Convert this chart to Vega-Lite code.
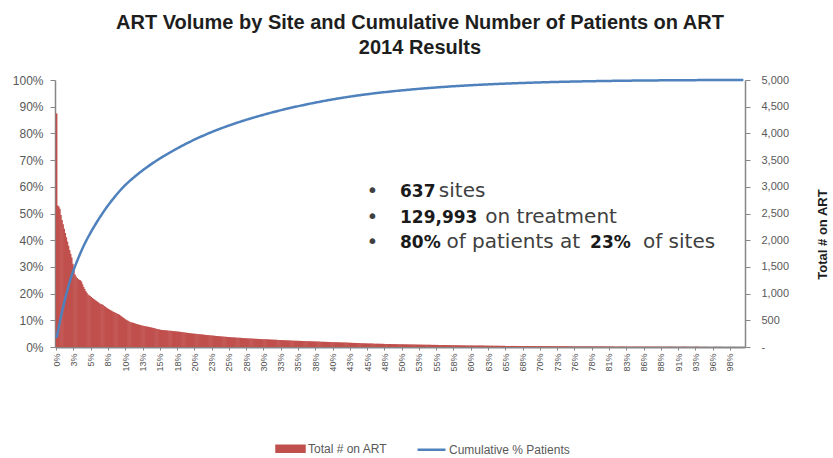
{
"$schema":"https://vega.github.io/schema/vega-lite/v6.json",
"width":690,"height":267,
"autosize":{"type":"none"},
"padding":{"left":55,"top":80,"right":88,"bottom":111},
"background":"white",
"config":{"view":{"stroke":null},"axis":{"grid":false}},
"title":{"text":["ART Volume by Site and Cumulative Number of Patients on ART","2014 Results"],"font":"Liberation Sans","fontSize":20,"fontWeight":"bold","color":"#1E1E1E","anchor":"middle","dx":20,"offset":16,"lineHeight":25},
"datasets":{"sites":[
{"s":1,"n":4374},{"s":2,"n":2650},{"s":3,"n":2630},{"s":4,"n":2590},{"s":5,"n":2470},{"s":6,"n":2380},{"s":7,"n":2300},{"s":8,"n":2215},{"s":9,"n":2135},{"s":10,"n":2055},
{"s":11,"n":1975},{"s":12,"n":1895},{"s":13,"n":1815},{"s":14,"n":1745},{"s":15,"n":1675},{"s":16,"n":1560},{"s":17,"n":1440},{"s":18,"n":1360},{"s":19,"n":1320},{"s":20,"n":1290},
{"s":21,"n":1270},{"s":22,"n":1260},{"s":23,"n":1250},{"s":24,"n":1225},{"s":25,"n":1175},{"s":26,"n":1125},{"s":27,"n":1085},{"s":28,"n":1045},{"s":29,"n":1015},{"s":30,"n":985},
{"s":31,"n":970},{"s":32,"n":955},{"s":33,"n":935},{"s":34,"n":920},{"s":35,"n":905},{"s":36,"n":890},{"s":37,"n":875},{"s":38,"n":860},{"s":39,"n":845},{"s":40,"n":830},
{"s":41,"n":815},{"s":42,"n":800},{"s":43,"n":800},{"s":44,"n":785},{"s":45,"n":770},{"s":46,"n":755},{"s":47,"n":740},{"s":48,"n":725},{"s":49,"n":713},{"s":50,"n":701},
{"s":51,"n":689},{"s":52,"n":677},{"s":53,"n":665},{"s":54,"n":655},{"s":55,"n":645},{"s":56,"n":635},{"s":57,"n":625},{"s":58,"n":617},{"s":59,"n":605},{"s":60,"n":590},
{"s":61,"n":575},{"s":62,"n":560},{"s":63,"n":545},{"s":64,"n":530},{"s":65,"n":515},{"s":66,"n":503},{"s":67,"n":491},{"s":68,"n":480},{"s":69,"n":470},{"s":70,"n":460},
{"s":71,"n":460},{"s":72,"n":453},{"s":73,"n":446},{"s":74,"n":439},{"s":75,"n":432},{"s":76,"n":426},{"s":77,"n":420},{"s":78,"n":414},{"s":79,"n":408},{"s":80,"n":402},
{"s":81,"n":397},{"s":82,"n":392},{"s":83,"n":390},{"s":84,"n":386},{"s":85,"n":382},{"s":86,"n":378},{"s":87,"n":374},{"s":88,"n":369},{"s":89,"n":364},{"s":90,"n":359},
{"s":91,"n":354},{"s":92,"n":349},{"s":93,"n":344},{"s":94,"n":339},{"s":95,"n":334},{"s":96,"n":329},{"s":97,"n":324},{"s":98,"n":320},{"s":99,"n":318},{"s":100,"n":316},
{"s":101,"n":314},{"s":102,"n":312},{"s":103,"n":310},{"s":104,"n":308},{"s":105,"n":306},{"s":106,"n":304},{"s":107,"n":302},{"s":108,"n":300},{"s":109,"n":298},{"s":110,"n":296},
{"s":111,"n":294},{"s":112,"n":292},{"s":113,"n":290},{"s":114,"n":288},{"s":115,"n":285},{"s":116,"n":282},{"s":117,"n":279},{"s":118,"n":276},{"s":119,"n":273},{"s":120,"n":270},
{"s":121,"n":268},{"s":122,"n":265},{"s":123,"n":262},{"s":124,"n":260},{"s":125,"n":257},{"s":126,"n":255},{"s":127,"n":252},{"s":128,"n":250},{"s":129,"n":248},{"s":130,"n":246},
{"s":131,"n":244},{"s":132,"n":242},{"s":133,"n":240},{"s":134,"n":238},{"s":135,"n":236},{"s":136,"n":234},{"s":137,"n":232},{"s":138,"n":229},{"s":139,"n":227},{"s":140,"n":225},
{"s":141,"n":223},{"s":142,"n":221},{"s":143,"n":219},{"s":144,"n":217},{"s":145,"n":215},{"s":146,"n":213},{"s":147,"n":211},{"s":148,"n":209},{"s":149,"n":207},{"s":150,"n":205},
{"s":151,"n":203},{"s":152,"n":201},{"s":153,"n":199},{"s":154,"n":197},{"s":155,"n":195},{"s":156,"n":193},{"s":157,"n":191},{"s":158,"n":190},{"s":159,"n":188},{"s":160,"n":187},
{"s":161,"n":185},{"s":162,"n":184},{"s":163,"n":182},{"s":164,"n":181},{"s":165,"n":179},{"s":166,"n":178},{"s":167,"n":176},{"s":168,"n":175},{"s":169,"n":174},{"s":170,"n":172},
{"s":171,"n":171},{"s":172,"n":170},{"s":173,"n":168},{"s":174,"n":167},{"s":175,"n":166},{"s":176,"n":164},{"s":177,"n":163},{"s":178,"n":162},{"s":179,"n":160},{"s":180,"n":159},
{"s":181,"n":158},{"s":182,"n":157},{"s":183,"n":156},{"s":184,"n":155},{"s":185,"n":154},{"s":186,"n":153},{"s":187,"n":152},{"s":188,"n":151},{"s":189,"n":150},{"s":190,"n":149},
{"s":191,"n":148},{"s":192,"n":147},{"s":193,"n":146},{"s":194,"n":145},{"s":195,"n":144},{"s":196,"n":143},{"s":197,"n":142},{"s":198,"n":141},{"s":199,"n":140},{"s":200,"n":139},
{"s":201,"n":138},{"s":202,"n":137},{"s":203,"n":136},{"s":204,"n":135},{"s":205,"n":134},{"s":206,"n":133},{"s":207,"n":132},{"s":208,"n":131},{"s":209,"n":130},{"s":210,"n":129},
{"s":211,"n":128},{"s":212,"n":127},{"s":213,"n":126},{"s":214,"n":125},{"s":215,"n":124},{"s":216,"n":123},{"s":217,"n":122},{"s":218,"n":121},{"s":219,"n":120},{"s":220,"n":119},
{"s":221,"n":118},{"s":222,"n":118},{"s":223,"n":117},{"s":224,"n":116},{"s":225,"n":115},{"s":226,"n":115},{"s":227,"n":114},{"s":228,"n":113},{"s":229,"n":112},{"s":230,"n":112},
{"s":231,"n":111},{"s":232,"n":110},{"s":233,"n":109},{"s":234,"n":109},{"s":235,"n":108},{"s":236,"n":107},{"s":237,"n":106},{"s":238,"n":106},{"s":239,"n":105},{"s":240,"n":104},
{"s":241,"n":103},{"s":242,"n":103},{"s":243,"n":102},{"s":244,"n":101},{"s":245,"n":100},{"s":246,"n":100},{"s":247,"n":99},{"s":248,"n":98},{"s":249,"n":97},{"s":250,"n":97},
{"s":251,"n":96},{"s":252,"n":95},{"s":253,"n":94},{"s":254,"n":94},{"s":255,"n":93},{"s":256,"n":92},{"s":257,"n":91},{"s":258,"n":91},{"s":259,"n":90},{"s":260,"n":89},
{"s":261,"n":88},{"s":262,"n":88},{"s":263,"n":87},{"s":264,"n":86},{"s":265,"n":85},{"s":266,"n":85},{"s":267,"n":84},{"s":268,"n":83},{"s":269,"n":82},{"s":270,"n":82},
{"s":271,"n":81},{"s":272,"n":80},{"s":273,"n":79},{"s":274,"n":79},{"s":275,"n":78},{"s":276,"n":77},{"s":277,"n":76},{"s":278,"n":76},{"s":279,"n":75},{"s":280,"n":74},
{"s":281,"n":73},{"s":282,"n":72},{"s":283,"n":71},{"s":284,"n":70},{"s":285,"n":70},{"s":286,"n":69},{"s":287,"n":68},{"s":288,"n":67},{"s":289,"n":67},{"s":290,"n":66},
{"s":291,"n":65},{"s":292,"n":65},{"s":293,"n":64},{"s":294,"n":64},{"s":295,"n":63},{"s":296,"n":63},{"s":297,"n":62},{"s":298,"n":62},{"s":299,"n":61},{"s":300,"n":61},
{"s":301,"n":60},{"s":302,"n":60},{"s":303,"n":59},{"s":304,"n":59},{"s":305,"n":58},{"s":306,"n":58},{"s":307,"n":57},{"s":308,"n":57},{"s":309,"n":56},{"s":310,"n":56},
{"s":311,"n":55},{"s":312,"n":55},{"s":313,"n":54},{"s":314,"n":54},{"s":315,"n":53},{"s":316,"n":53},{"s":317,"n":52},{"s":318,"n":52},{"s":319,"n":52},{"s":320,"n":51},
{"s":321,"n":51},{"s":322,"n":50},{"s":323,"n":50},{"s":324,"n":50},{"s":325,"n":49},{"s":326,"n":49},{"s":327,"n":48},{"s":328,"n":48},{"s":329,"n":48},{"s":330,"n":47},
{"s":331,"n":47},{"s":332,"n":46},{"s":333,"n":46},{"s":334,"n":46},{"s":335,"n":45},{"s":336,"n":45},{"s":337,"n":45},{"s":338,"n":44},{"s":339,"n":44},{"s":340,"n":43},
{"s":341,"n":43},{"s":342,"n":43},{"s":343,"n":42},{"s":344,"n":42},{"s":345,"n":42},{"s":346,"n":41},{"s":347,"n":41},{"s":348,"n":41},{"s":349,"n":40},{"s":350,"n":40},
{"s":351,"n":40},{"s":352,"n":39},{"s":353,"n":39},{"s":354,"n":39},{"s":355,"n":38},{"s":356,"n":38},{"s":357,"n":38},{"s":358,"n":37},{"s":359,"n":37},{"s":360,"n":37},
{"s":361,"n":36},{"s":362,"n":36},{"s":363,"n":36},{"s":364,"n":35},{"s":365,"n":35},{"s":366,"n":35},{"s":367,"n":34},{"s":368,"n":34},{"s":369,"n":34},{"s":370,"n":33},
{"s":371,"n":33},{"s":372,"n":33},{"s":373,"n":32},{"s":374,"n":32},{"s":375,"n":32},{"s":376,"n":31},{"s":377,"n":31},{"s":378,"n":31},{"s":379,"n":30},{"s":380,"n":30},
{"s":381,"n":30},{"s":382,"n":30},{"s":383,"n":29},{"s":384,"n":29},{"s":385,"n":29},{"s":386,"n":28},{"s":387,"n":28},{"s":388,"n":28},{"s":389,"n":28},{"s":390,"n":27},
{"s":391,"n":27},{"s":392,"n":27},{"s":393,"n":27},{"s":394,"n":26},{"s":395,"n":26},{"s":396,"n":26},{"s":397,"n":26},{"s":398,"n":25},{"s":399,"n":25},{"s":400,"n":25},
{"s":401,"n":25},{"s":402,"n":24},{"s":403,"n":24},{"s":404,"n":24},{"s":405,"n":24},{"s":406,"n":23},{"s":407,"n":23},{"s":408,"n":23},{"s":409,"n":23},{"s":410,"n":23},
{"s":411,"n":22},{"s":412,"n":22},{"s":413,"n":22},{"s":414,"n":22},{"s":415,"n":22},{"s":416,"n":21},{"s":417,"n":21},{"s":418,"n":21},{"s":419,"n":21},{"s":420,"n":21},
{"s":421,"n":21},{"s":422,"n":20},{"s":423,"n":20},{"s":424,"n":20},{"s":425,"n":20},{"s":426,"n":20},{"s":427,"n":19},{"s":428,"n":19},{"s":429,"n":19},{"s":430,"n":19},
{"s":431,"n":19},{"s":432,"n":19},{"s":433,"n":18},{"s":434,"n":18},{"s":435,"n":18},{"s":436,"n":18},{"s":437,"n":18},{"s":438,"n":18},{"s":439,"n":17},{"s":440,"n":17},
{"s":441,"n":17},{"s":442,"n":17},{"s":443,"n":17},{"s":444,"n":17},{"s":445,"n":16},{"s":446,"n":16},{"s":447,"n":16},{"s":448,"n":16},{"s":449,"n":16},{"s":450,"n":16},
{"s":451,"n":16},{"s":452,"n":15},{"s":453,"n":15},{"s":454,"n":15},{"s":455,"n":15},{"s":456,"n":15},{"s":457,"n":14},{"s":458,"n":14},{"s":459,"n":14},{"s":460,"n":14},
{"s":461,"n":14},{"s":462,"n":14},{"s":463,"n":14},{"s":464,"n":13},{"s":465,"n":13},{"s":466,"n":13},{"s":467,"n":13},{"s":468,"n":13},{"s":469,"n":13},{"s":470,"n":13},
{"s":471,"n":12},{"s":472,"n":12},{"s":473,"n":12},{"s":474,"n":12},{"s":475,"n":12},{"s":476,"n":12},{"s":477,"n":12},{"s":478,"n":11},{"s":479,"n":11},{"s":480,"n":11},
{"s":481,"n":11},{"s":482,"n":11},{"s":483,"n":11},{"s":484,"n":11},{"s":485,"n":11},{"s":486,"n":10},{"s":487,"n":10},{"s":488,"n":10},{"s":489,"n":10},{"s":490,"n":10},
{"s":491,"n":10},{"s":492,"n":10},{"s":493,"n":10},{"s":494,"n":10},{"s":495,"n":9},{"s":496,"n":9},{"s":497,"n":9},{"s":498,"n":9},{"s":499,"n":9},{"s":500,"n":9},
{"s":501,"n":9},{"s":502,"n":9},{"s":503,"n":9},{"s":504,"n":9},{"s":505,"n":8},{"s":506,"n":8},{"s":507,"n":8},{"s":508,"n":8},{"s":509,"n":8},{"s":510,"n":8},
{"s":511,"n":8},{"s":512,"n":8},{"s":513,"n":8},{"s":514,"n":8},{"s":515,"n":8},{"s":516,"n":7},{"s":517,"n":7},{"s":518,"n":7},{"s":519,"n":7},{"s":520,"n":7},
{"s":521,"n":7},{"s":522,"n":7},{"s":523,"n":7},{"s":524,"n":7},{"s":525,"n":7},{"s":526,"n":7},{"s":527,"n":6},{"s":528,"n":6},{"s":529,"n":6},{"s":530,"n":6},
{"s":531,"n":6},{"s":532,"n":6},{"s":533,"n":6},{"s":534,"n":6},{"s":535,"n":6},{"s":536,"n":6},{"s":537,"n":6},{"s":538,"n":6},{"s":539,"n":5},{"s":540,"n":5},
{"s":541,"n":5},{"s":542,"n":5},{"s":543,"n":5},{"s":544,"n":5},{"s":545,"n":5},{"s":546,"n":5},{"s":547,"n":5},{"s":548,"n":5},{"s":549,"n":5},{"s":550,"n":5},
{"s":551,"n":5},{"s":552,"n":5},{"s":553,"n":5},{"s":554,"n":4},{"s":555,"n":4},{"s":556,"n":4},{"s":557,"n":4},{"s":558,"n":4},{"s":559,"n":4},{"s":560,"n":4},
{"s":561,"n":4},{"s":562,"n":4},{"s":563,"n":4},{"s":564,"n":4},{"s":565,"n":4},{"s":566,"n":4},{"s":567,"n":4},{"s":568,"n":4},{"s":569,"n":4},{"s":570,"n":4},
{"s":571,"n":4},{"s":572,"n":4},{"s":573,"n":4},{"s":574,"n":3},{"s":575,"n":3},{"s":576,"n":3},{"s":577,"n":3},{"s":578,"n":3},{"s":579,"n":3},{"s":580,"n":3},
{"s":581,"n":3},{"s":582,"n":3},{"s":583,"n":3},{"s":584,"n":3},{"s":585,"n":3},{"s":586,"n":3},{"s":587,"n":3},{"s":588,"n":3},{"s":589,"n":3},{"s":590,"n":3},
{"s":591,"n":3},{"s":592,"n":3},{"s":593,"n":3},{"s":594,"n":3},{"s":595,"n":3},{"s":596,"n":3},{"s":597,"n":2},{"s":598,"n":2},{"s":599,"n":2},{"s":600,"n":2},
{"s":601,"n":2},{"s":602,"n":2},{"s":603,"n":2},{"s":604,"n":2},{"s":605,"n":2},{"s":606,"n":2},{"s":607,"n":2},{"s":608,"n":2},{"s":609,"n":2},{"s":610,"n":2},
{"s":611,"n":2},{"s":612,"n":2},{"s":613,"n":2},{"s":614,"n":2},{"s":615,"n":2},{"s":616,"n":2},{"s":617,"n":1},{"s":618,"n":1},{"s":619,"n":1},{"s":620,"n":1},
{"s":621,"n":1},{"s":622,"n":1},{"s":623,"n":1},{"s":624,"n":1},{"s":625,"n":1},{"s":626,"n":1},{"s":627,"n":1},{"s":628,"n":1},{"s":629,"n":1},{"s":630,"n":1},
{"s":631,"n":1},{"s":632,"n":1},{"s":633,"n":1},{"s":634,"n":1},{"s":635,"n":1},{"s":636,"n":1},{"s":637,"n":1}
]},
"data":{"name":"sites"},
"encoding":{
"x":{"field":"s","type":"ordinal","scale":{"paddingInner":0,"paddingOuter":1},
"axis":{"title":null,"values":[1,17,33,49,65,81,97,113,129,145,161,177,193,209,225,241,257,273,289,305,321,337,353,369,385,401,417,433,449,465,481,497,513,529,545,561,577,593,609,625],
"labelExpr":"format(datum.value/637,'.0%')","labelAngle":-90,"labelFont":"Liberation Sans","labelFontSize":9,"labelColor":"#505050","labelPadding":3,"tickSize":3,"tickColor":"#868686","domainColor":"#868686","domainWidth":2}}
},
"layer":[
{"layer":[
{"mark":{"type":"bar","width":{"band":1.5}},
"encoding":{
"y":{"field":"n","type":"quantitative","scale":{"domain":[0,5000],"nice":false},
"axis":{"orient":"right","title":"Total # on ART","titleAngle":-90,"titleFont":"Liberation Sans","titleFontSize":13,"titleFontWeight":"bold","titleColor":"#1E1E1E","titleX":77,"titleY":154,"titleAlign":"center","titleBaseline":"middle",
"values":[0,500,1000,1500,2000,2500,3000,3500,4000,4500,5000],"labelExpr":"datum.value==0 ? '-' : format(datum.value, ',')",
"labelFont":"Liberation Sans","labelFontSize":11,"labelColor":"#595959","labelPadding":11,"tickSize":5,"tickColor":"#868686","domainColor":"#868686","domainWidth":1.5}},
"color":{"datum":"Total # on ART","type":"nominal","scale":{"domain":["Total # on ART","Cumulative % Patients"],"range":["#C0504D","#4F81BD"]},
"legend":{"orient":"none","legendX":220,"legendY":353,"direction":"horizontal","title":null,"labelFont":"Liberation Sans","labelFontSize":12,"labelColor":"#595959","symbolSize":784,"labelOffset":2,"columnPadding":24,
"encode":{"symbols":{"update":{"shape":{"signal":"datum.value === 'Total # on ART' ? 'M-1,-0.21H1V0.21H-1Z' : 'stroke'"},"fill":{"signal":"datum.value === 'Total # on ART' ? '#C0504D' : 'transparent'"},"stroke":{"signal":"datum.value === 'Total # on ART' ? 'transparent' : '#4F81BD'"},"strokeWidth":{"value":2.5},"opacity":{"value":1}}}}}}
}},
{"data":{"values":[{"s":319,"v":2809,"t":"637"},{"s":319,"v":2331,"t":"129,993"},{"s":319,"v":1854,"t":"80%"},{"s":495,"v":1854,"t":"23%"}]},
"mark":{"type":"text","align":"left","baseline":"alphabetic","font":"DejaVu Sans","fontSize":17,"fontWeight":"bold","color":"#1A1A1A"},
"encoding":{"y":{"field":"v","type":"quantitative","scale":{"domain":[0,5000],"nice":false},"axis":null},"text":{"field":"t"}}},
{"data":{"values":[{"s":288,"v":2809,"t":"•"},{"s":288,"v":2331,"t":"•"},{"s":288,"v":1854,"t":"•"},{"s":355,"v":2809,"t":"sites"},{"s":398,"v":2331,"t":"on treatment"},{"s":362,"v":1854,"t":"of patients at"},{"s":544,"v":1854,"t":"of sites"}]},
"mark":{"type":"text","align":"left","baseline":"alphabetic","font":"DejaVu Sans","fontSize":20,"color":"#404040"},
"encoding":{"y":{"field":"v","type":"quantitative","scale":{"domain":[0,5000],"nice":false},"axis":null},"text":{"field":"t"}}}
],
"resolve":{"scale":{"y":"independent"}}},
{"transform":[{"window":[{"op":"sum","field":"n","as":"cum"}],"sort":[{"field":"s","order":"ascending"}],"frame":[null,0]}],
"mark":{"type":"line","strokeWidth":2.5,"interpolate":"linear"},
"encoding":{
"y":{"field":"cum","type":"quantitative","scale":{"domain":[0,129993],"nice":false},
"axis":{"orient":"left","title":null,"values":[0,12999.3,25998.6,38997.9,51997.2,64996.5,77995.8,90995.1,103994.4,116993.7,129993],
"labelExpr":"format(datum.value/129993,'.0%')","labelFont":"Liberation Sans","labelFontSize":12,"labelColor":"#595959","labelPadding":7,"tickSize":5,"tickColor":"#868686","domainColor":"#868686","domainWidth":1.5}},
"color":{"datum":"Cumulative % Patients","type":"nominal"}
}}
],
"resolve":{"scale":{"y":"independent"}}
}
